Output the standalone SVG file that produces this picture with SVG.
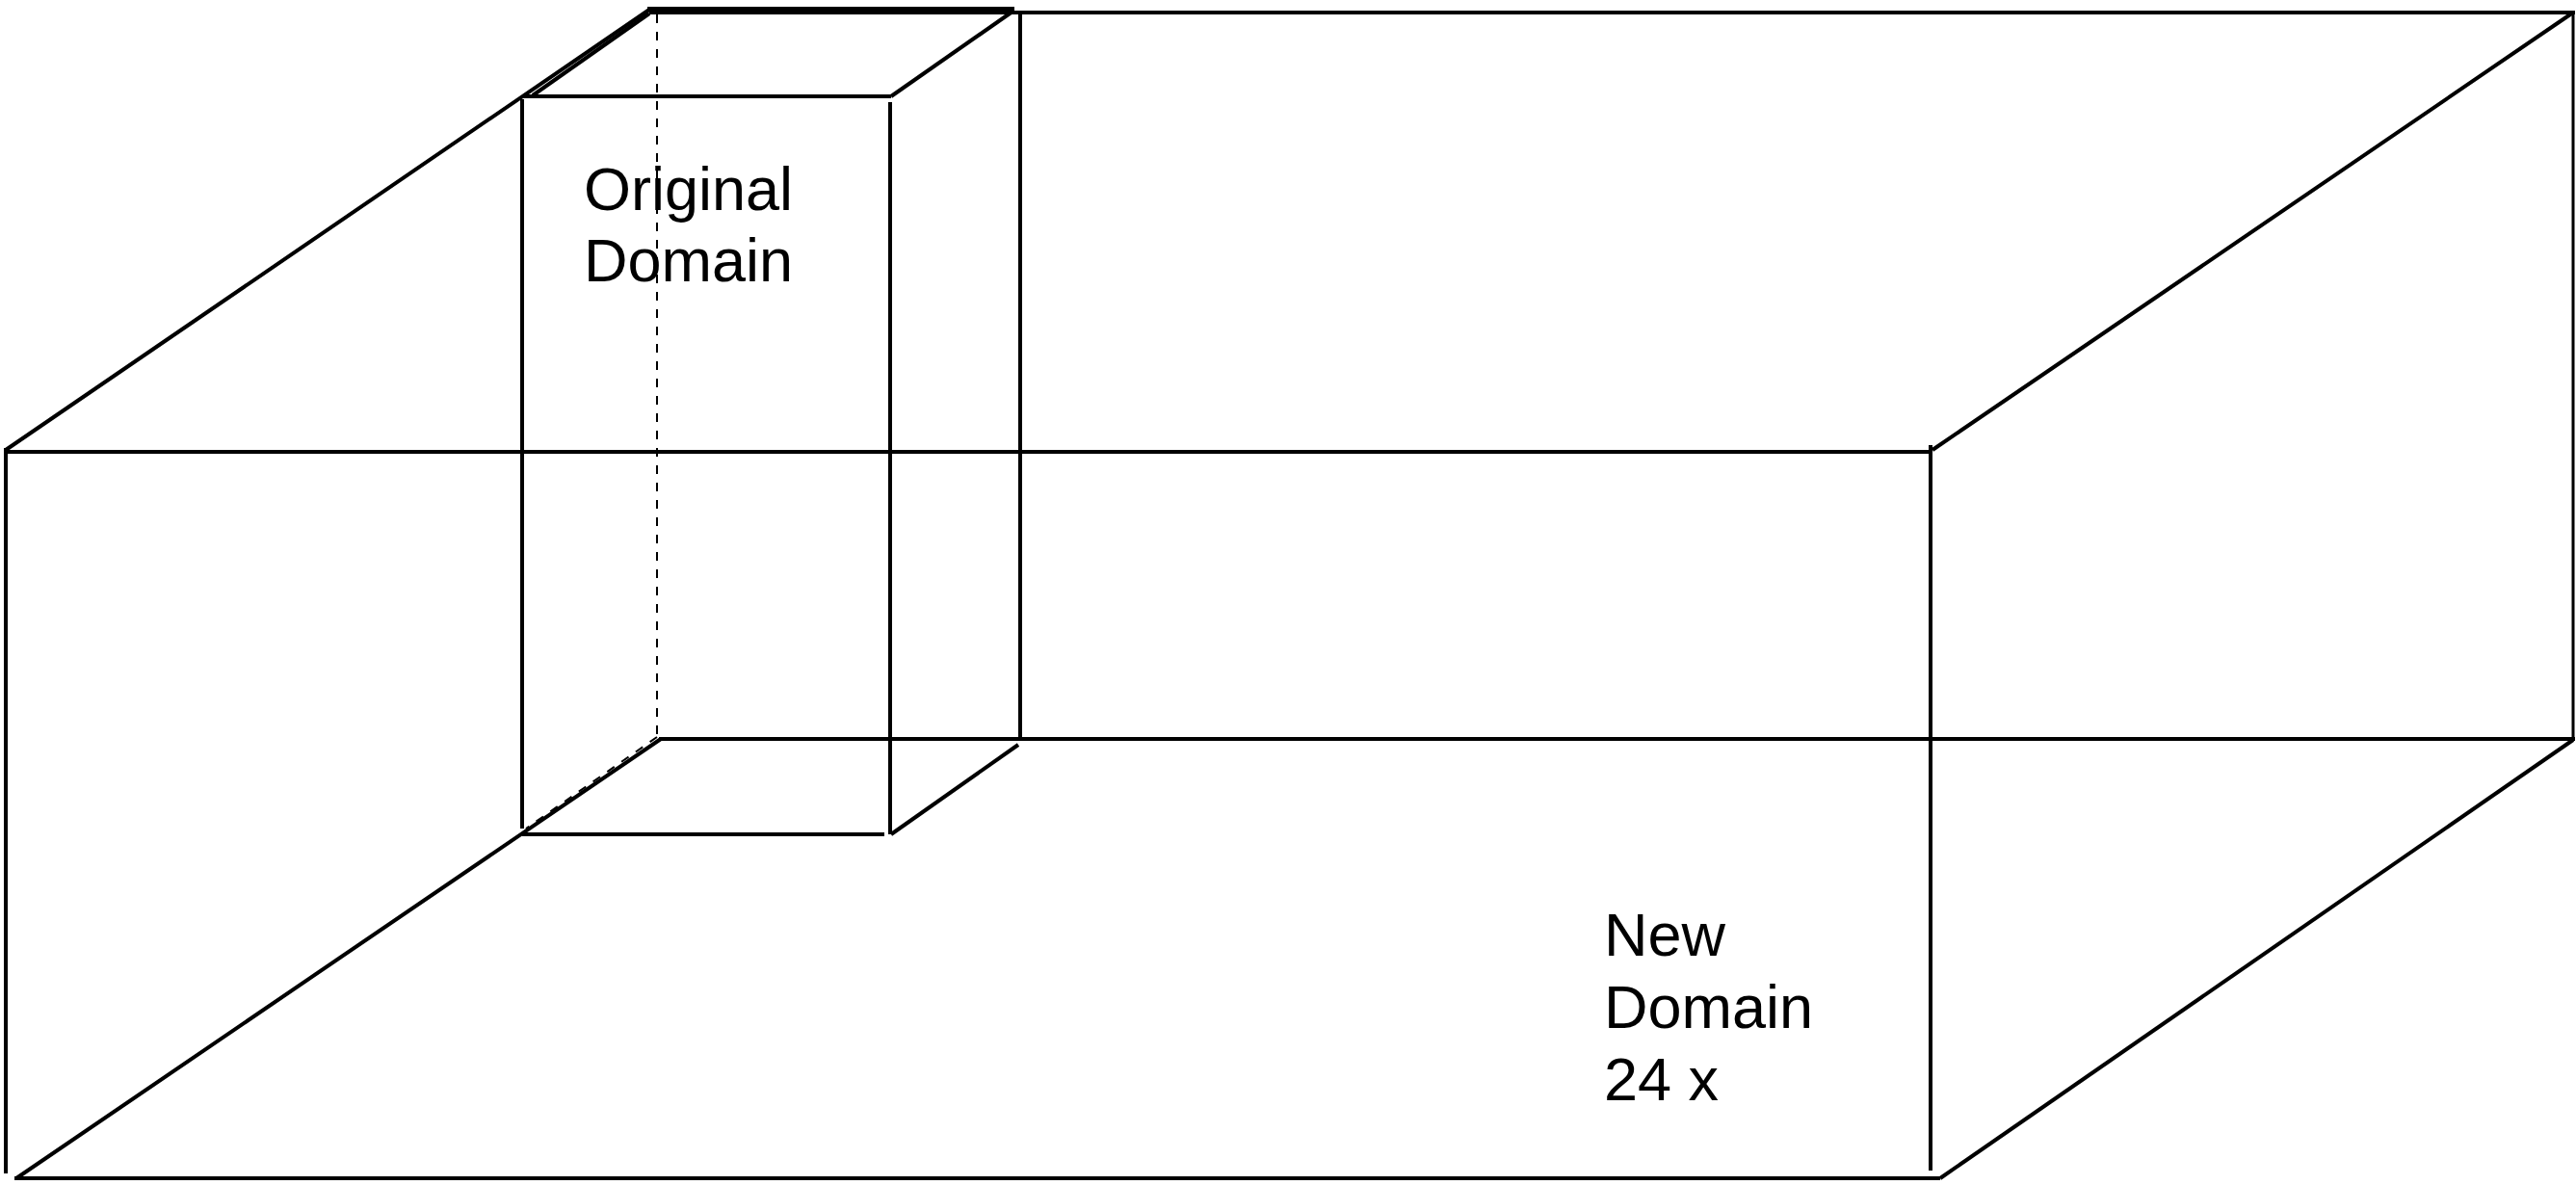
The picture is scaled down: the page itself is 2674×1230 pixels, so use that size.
<svg xmlns="http://www.w3.org/2000/svg" width="2674" height="1230" viewBox="0 0 2674 1230">
<style>
.s{stroke:#000;stroke-width:4;fill:none;stroke-linecap:butt}
.t{stroke:#000;stroke-width:3;fill:none}
.d{stroke:#000;stroke-width:2;fill:none;stroke-dasharray:9 9}
.lbl{font-family:"Liberation Sans",Arial,sans-serif;font-size:63px;fill:#000}
</style>
<rect width="2674" height="1230" fill="#fff"/>
<g id="new-domain">
<line class="s" x1="6" y1="465" x2="6" y2="1218"/>
<line class="s" x1="4" y1="469" x2="2006" y2="469"/>
<line class="s" x1="2004" y1="462" x2="2004" y2="1215"/>
<line class="s" x1="15" y1="1223" x2="2014" y2="1223"/>
<line class="s" x1="6" y1="467" x2="674" y2="10"/>
<line class="s" x1="2006" y1="467" x2="2671" y2="13"/>
<line class="s" x1="17" y1="1223" x2="686" y2="767"/>
<line class="s" x1="2014" y1="1223" x2="2671" y2="768"/>
<line class="s" x1="674" y1="13" x2="2673" y2="13"/>
<line class="t" x1="2671" y1="11" x2="2671" y2="768"/>
<line class="s" x1="684" y1="767" x2="2673" y2="767"/>
</g>
<g id="original-domain">
<line class="s" x1="672" y1="9" x2="1053" y2="9"/>
<line class="s" x1="542" y1="100" x2="925" y2="100"/>
<line class="s" x1="542" y1="103" x2="542" y2="860"/>
<line class="s" x1="924" y1="106" x2="924" y2="866"/>
<line class="s" x1="553" y1="99" x2="674" y2="14"/>
<line class="s" x1="925" y1="100" x2="1051" y2="12"/>
<line class="s" x1="1059" y1="11" x2="1059" y2="767"/>
<line class="s" x1="542" y1="866" x2="918" y2="866"/>
<line class="s" x1="925" y1="866" x2="1057" y2="773"/>
<line class="d" x1="682" y1="15" x2="682" y2="767"/>
<line class="d" x1="682" y1="765" x2="546" y2="860"/>
</g>
<g id="labels">
<text class="lbl" x="606" y="218">Original</text>
<text class="lbl" x="606" y="292">Domain</text>
<text class="lbl" x="1665" y="992">New</text>
<text class="lbl" x="1665" y="1067">Domain</text>
<text class="lbl" x="1665" y="1142">24 x</text>
</g>
</svg>
